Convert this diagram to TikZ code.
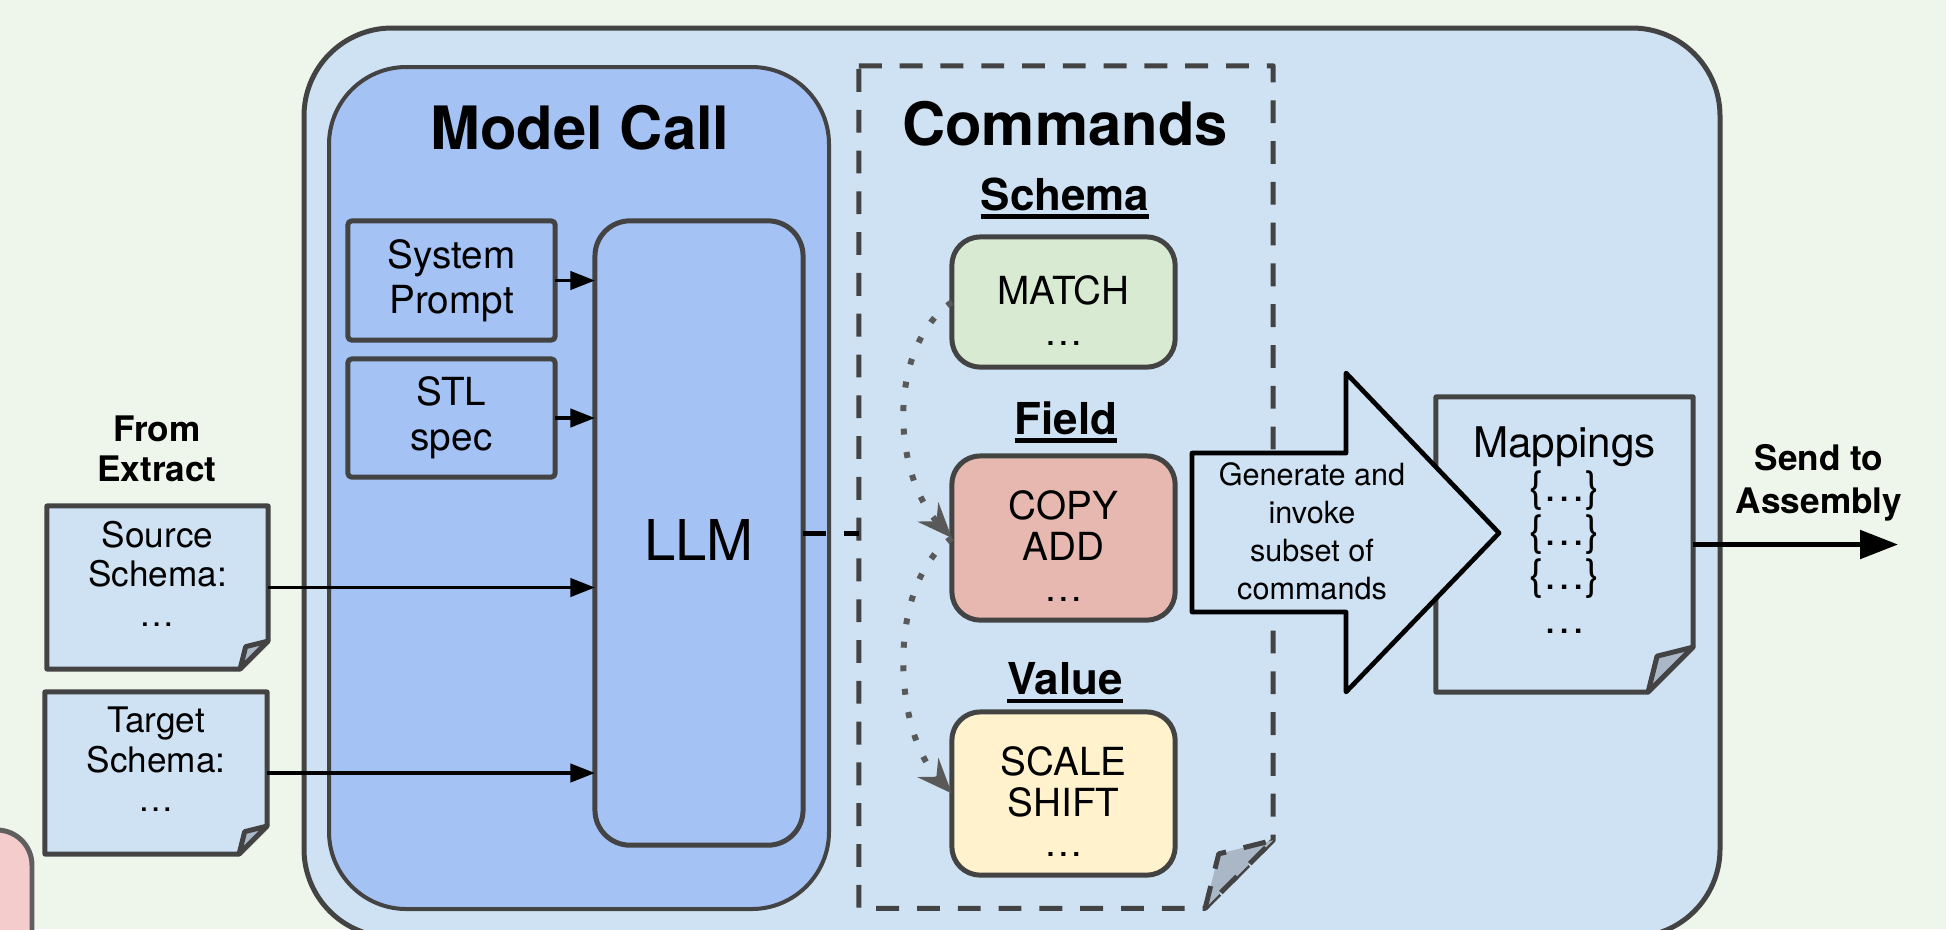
\documentclass[tikz,border=0pt]{standalone}
\usepackage{fontspec}
\setmainfont{TeX Gyre Heros}
\usetikzlibrary{calc,arrows.meta}

\definecolor{bggreen}{HTML}{EEF5EA}
\definecolor{outerblue}{HTML}{CFE2F3}
\definecolor{modelblue}{HTML}{A4C2F4}
\definecolor{edgegray}{HTML}{434343}
\definecolor{matchgreen}{HTML}{D9EAD3}
\definecolor{copyred}{HTML}{E6B8AF}
\definecolor{scaleyellow}{HTML}{FFF2CC}
\definecolor{foldgray}{HTML}{A9B7C6}
\definecolor{pinkfill}{HTML}{F4CCCC}
\definecolor{pinkedge}{HTML}{5F5F5F}
\definecolor{dotgray}{HTML}{595959}

% underline for the command group headers
\newcommand{\hdrline}[1]{\setbox0\hbox{#1}\rlap{\rule[-2.4pt]{\wd0}{1.3pt}}\box0}
% folded page outline round an (empty) node
\newcommand{\dogear}[3][]{%
  \draw[docline,#1] (#2.north west) -- (#2.north east) -- ($(#2.south east)+(0,-#3)$)
    -- ($(#2.south east)+(-#3,0)$) -- (#2.south west) -- cycle;
  \draw[docline,#1,fill=foldgray] ($(#2.south east)+(-#3,0)$) -- ($(#2.south east)+(-0.8*#3,-0.8*#3)$)
    -- ($(#2.south east)+(0,-#3)$) -- cycle;}

\begin{document}
\begin{tikzpicture}[x=0.01cm, y=-0.01cm, line join=round,
  every node/.style = {outer sep=0pt, inner sep=0pt},
  edgeline/.style = {draw=edgegray, line width=1.42pt},
  docline/.style = {edgeline, fill=outerblue},
  docbox/.style = {draw=none},
  doctext/.style = {align=center, font=\fontsize{10}{11.2}\selectfont},
  inbox/.style = {edgeline, fill=modelblue, rounded corners=1pt, minimum width=2.07cm, align=center, font=\fontsize{11}{12.8}\selectfont},
  cmdbox/.style = {edgeline, rounded corners=8pt, minimum width=2.23cm, align=center, font=\fontsize{11}{11.6}\selectfont},
  bigtitle/.style = {font=\fontsize{17}{20}\selectfont\bfseries},
  hdr/.style = {font=\fontsize{12.5}{15}\selectfont\bfseries},
  boldnote/.style = {align=center, font=\fontsize{10}{11.5}\selectfont\bfseries},
  feed/.style = {line width=1pt, -{Triangle[length=7pt,width=5.2pt]}},
  flowdot/.style = {draw=dotgray, line width=1.7pt, dash pattern=on 1.7pt off 5pt, -{Stealth[length=10pt,width=8pt,inset=3.5pt]}},
  linkdash/.style = {line width=1.42pt, dash pattern=on 6.5pt off 5.1pt},
]
\useasboundingbox (0,0) rectangle (1946,929);
\clip (0,0) rectangle (1946,929);
\fill[bggreen] (0,0) rectangle (1946,929);

% neighbour stage, cut off at the corner
\draw[draw=pinkedge, line width=1.42pt, fill=pinkfill, rounded corners=10pt] (-80,830) rectangle (32,1000);

% translate stage
\draw[edgeline, fill=outerblue, rounded corners=25pt] (304,28) rectangle (1720,937);
\draw[draw=edgegray, line width=1.14pt, fill=modelblue, rounded corners=22pt] (329,67) rectangle (829,909);
\node[bigtitle] (mctitle) at (580,128) {Model Call};

\node[inbox, minimum height=1.19cm] (sysp) at (451.5,280.5) {System\\Prompt};
\node[inbox, minimum height=1.18cm] (stl) at (451.5,418) {STL\\spec};
\node[edgeline, fill=modelblue, rounded corners=10pt, minimum width=2.08cm, minimum height=6.24cm,
  text height=15.5pt, font=\fontsize{16}{18}\selectfont] (llm) at (699,533) {LLM};

% commands
\node[docbox, minimum width=4.14cm, minimum height=8.42cm] (cmd) at (1066,487) {};
\dogear[fill=none, dash pattern=on 6.5pt off 5.1pt]{cmd}{68}
\node[bigtitle] (cmdtitle) at (1065,124) {Commands};

\node[hdr] (schemahdr) at (1065,198) {\hdrline{Schema}};
\node[cmdbox, fill=matchgreen, minimum height=1.30cm, text height=24.5pt] (schemabox) at (1063.5,302) {MATCH\\…};
\node[hdr] (fieldhdr) at (1066,422) {\hdrline{Field}};
\node[cmdbox, fill=copyred, minimum height=1.64cm, text height=36pt] (fieldbox) at (1063.5,538) {COPY\\ADD\\…};
\node[hdr] (valuehdr) at (1065,683) {\hdrline{Value}};
\node[cmdbox, fill=scaleyellow, minimum height=1.63cm, text height=36pt] (valuebox) at (1063.5,793.5) {SCALE\\SHIFT\\…};

\draw[flowdot] (schemabox.west) .. controls +(-65,45) and +(-60,-65) .. (fieldbox.west);
\draw[flowdot] (fieldbox.west) .. controls +(-65,45) and +(-60,-65) .. (valuebox.west);

% inputs from extract
\node[boldnote] (fromlbl) at (157,449) {From\\Extract};
\node[docbox, minimum width=2.21cm, minimum height=1.63cm] (src) at (157.5,587.5) {};
\dogear{src}{28}
\node[doctext] (srctext) at ($(src)+(0,-14)$) {Source\\Schema:\\…};
\node[docbox, minimum width=2.22cm, minimum height=1.62cm] (tgt) at (156,773) {};
\dogear{tgt}{28}
\node[doctext] (tgttext) at ($(tgt)+(0,-13.5)$) {Target\\Schema:\\…};

\draw[feed] (sysp.east) -- (sysp.east -| llm.west);
\draw[feed] (stl.east) -- (stl.east -| llm.west);
\draw[feed] (src.east) -- (src.east -| llm.west);
\draw[feed] (tgt.east) -- (tgt.east -| llm.west);
\draw[linkdash] (llm.east) -- (llm.east -| cmd.west);

% output
\node[docbox, minimum width=2.57cm, minimum height=2.95cm] (map) at (1564.5,544.5) {};
\dogear{map}{45}
\node[align=center, font=\fontsize{12}{12.5}\selectfont] (maptext) at (1564.5,530) {Mappings\\\{…\}\\\{…\}\\\{…\}\\…};

\draw[line width=1.33pt, fill=outerblue] (1192,453) -- (1346,453) -- (1346,373) -- (1499,533)
  -- (1346,692) -- (1346,612) -- (1192,612) -- cycle;
\node[align=center, font=\fontsize{8.7}{10.8}\selectfont] (gentext) at (1312,531) {Generate and\\invoke\\subset of\\commands};

\coordinate (sendtip) at (1898,544.5);
\draw[line width=1.4pt, -{Triangle[length=10.8pt,width=8pt]}] (map.east) -- (sendtip);
\node[boldnote, font=\fontsize{10}{12.3}\selectfont\bfseries] (sendlbl) at (1819,483) {Send to\\Assembly};
\end{tikzpicture}
\end{document}
